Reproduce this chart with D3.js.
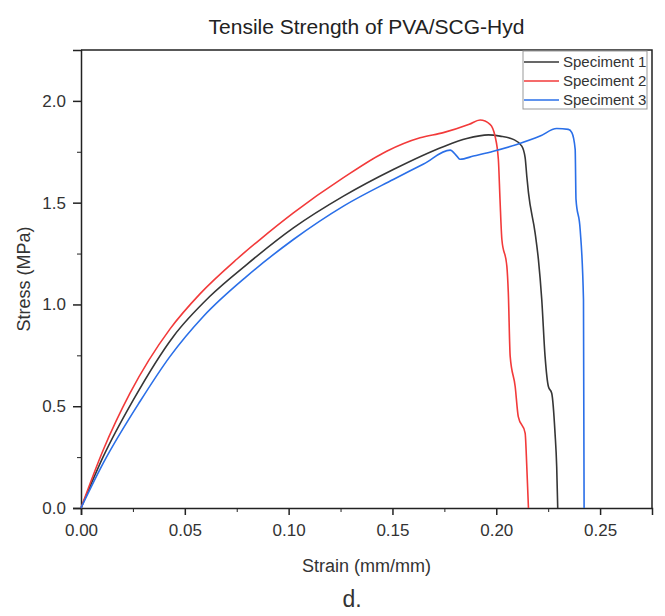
<!DOCTYPE html>
<html>
<head>
<meta charset="utf-8">
<script src="https://cdn.jsdelivr.net/npm/d3@7"></script>
<style>
  body { margin: 0; background: #fff; }
  svg { display: block; font-family: "Liberation Sans", Arial, sans-serif; }
  .axis path, .axis line { stroke: #222; }
  .axis text { fill: #333; font-size: 17px; }
</style>
</head>
<body>
<div id="chart"></div>
<script>
// Stress-strain curves (strain mm/mm, stress MPa).
const strain1 = [0, 0.0107, 0.0252, 0.0445, 0.0621, 0.0798, 0.1023, 0.1264, 0.1504, 0.1745, 0.1858, 0.1962, 0.2018, 0.2082, 0.2123, 0.2139, 0.2147, 0.2155, 0.2187, 0.2203, 0.2219, 0.2235, 0.2251, 0.2267, 0.2283, 0.2291, 0.2296];
const stress1 = [0, 0.252, 0.531, 0.843, 1.040, 1.196, 1.376, 1.532, 1.663, 1.775, 1.815, 1.833, 1.827, 1.811, 1.778, 1.721, 1.630, 1.549, 1.352, 1.220, 1.024, 0.745, 0.597, 0.564, 0.368, 0.203, 0];

const strain2 = [0, 0.0107, 0.0236, 0.0429, 0.0573, 0.0750, 0.0862, 0.1023, 0.1264, 0.1472, 0.1633, 0.1745, 0.1870, 0.1922, 0.1970, 0.1994, 0.2010, 0.2018, 0.2027, 0.2051, 0.2058, 0.2067, 0.2091, 0.2106, 0.2139, 0.2147, 0.2155];
const stress2 = [0, 0.285, 0.564, 0.880, 1.052, 1.222, 1.319, 1.450, 1.623, 1.753, 1.819, 1.844, 1.885, 1.906, 1.885, 1.827, 1.713, 1.516, 1.319, 1.187, 1.057, 0.745, 0.597, 0.449, 0.368, 0.203, 0];

const strain3 = [0, 0.0107, 0.0284, 0.0429, 0.0589, 0.0798, 0.1023, 0.1264, 0.1504, 0.1650, 0.1778, 0.1810, 0.1826, 0.1890, 0.1986, 0.2099, 0.2211, 0.2291, 0.2347, 0.2364, 0.2380, 0.2384, 0.2404, 0.2420, 0.2423];
const stress3 = [0, 0.220, 0.523, 0.745, 0.941, 1.138, 1.319, 1.483, 1.614, 1.690, 1.758, 1.729, 1.713, 1.729, 1.753, 1.786, 1.827, 1.864, 1.860, 1.844, 1.762, 1.516, 1.368, 1.024, 0];

const seriesNames = ["Speciment 1", "Speciment 2", "Speciment 3"];
const seriesColors = ["#363636", "#f23a3a", "#2a6fe8"];

const xTicks = [0, 0.05, 0.10, 0.15, 0.20, 0.25];
const xMinor = [0.025, 0.075, 0.125, 0.175, 0.225, 0.275];
const yTicks = [0, 0.5, 1.0, 1.5, 2.0];
const yMinor = [0.25, 0.75, 1.25, 1.75, 2.25];

const width = 665, height = 616;
const m = { top: 50, right: 13, bottom: 108, left: 81 };
const iW = width - m.left - m.right, iH = height - m.top - m.bottom;

const x = d3.scaleLinear([0, 0.275], [0, iW]);
const y = d3.scaleLinear([0, 2.25], [iH, 0]);

const svg = d3.select("#chart").append("svg")
  .attr("width", width).attr("height", height);
const g = svg.append("g").attr("transform", `translate(${m.left},${m.top})`);

svg.append("text").attr("x", m.left + iW / 2).attr("y", 34)
  .attr("text-anchor", "middle").attr("fill", "#222").style("font-size", "21px")
  .text("Tensile Strength of PVA/SCG-Hyd");

// Minor ticks first, majors on top.
g.append("g").attr("class", "axis").attr("transform", `translate(0,${iH})`)
  .call(d3.axisBottom(x).tickValues(xMinor).tickSize(4).tickFormat(""))
  .call((a) => a.select(".domain").remove());
g.append("g").attr("class", "axis").call(d3.axisLeft(y).tickValues(yMinor).tickSize(4).tickFormat(""))
  .call((a) => a.select(".domain").remove());

g.append("g").attr("class", "axis").attr("transform", `translate(0,${iH})`)
  .call(d3.axisBottom(x).tickValues(xTicks).tickSize(7).tickPadding(9).tickFormat(d3.format(".2f")))
  .call((a) => a.selectAll("line, path").attr("stroke-width", 1.5));
g.append("g").attr("class", "axis")
  .call(d3.axisLeft(y).tickValues(yTicks).tickSize(8).tickPadding(7).tickFormat(d3.format(".1f")))
  .call((a) => a.selectAll("line, path").attr("stroke-width", 1.5));

// Box frame (top and right edges).
g.append("path").attr("fill", "none").attr("stroke", "#222").attr("stroke-width", 1.5)
  .attr("d", `M0,0H${iW}V${iH}`);

const sets = [[strain1, stress1], [strain2, stress2], [strain3, stress3]];
const line = d3.line().x((p) => x(p[0])).y((p) => y(p[1])).curve(d3.curveMonotoneX);
sets.forEach(([xs, ys], i) => {
  const pts = xs.map((v, j) => [v, ys[j]]);
  g.append("path").datum(pts).attr("fill", "none")
    .attr("stroke", seriesColors[i]).attr("stroke-width", 1.6).attr("d", line);
});

g.append("text").attr("x", iW / 2).attr("y", iH + 64).attr("text-anchor", "middle")
  .attr("fill", "#333").style("font-size", "18px").text("Strain (mm/mm)");
g.append("text").attr("text-anchor", "middle").attr("fill", "#333").style("font-size", "18px")
  .attr("transform", `translate(${30 - m.left},${iH / 2}) rotate(-90)`).text("Stress (MPa)");

svg.append("text").attr("x", 352).attr("y", 607).attr("text-anchor", "middle")
  .attr("fill", "#333").style("font-size", "23px").text("d.");

// Legend box in the upper right corner.
const lg = g.append("g").attr("transform", `translate(${iW - 129},1)`);
lg.append("rect").attr("width", 124).attr("height", 58)
  .attr("fill", "#fff").attr("stroke", "#999").attr("stroke-width", 1);
seriesNames.forEach((name, i) => {
  const cy = 11 + i * 19;
  lg.append("line").attr("x1", 1).attr("x2", 36).attr("y1", cy).attr("y2", cy)
    .attr("stroke", seriesColors[i]).attr("stroke-width", 1.6);
  lg.append("text").attr("x", 40).attr("y", cy + 5).attr("fill", "#333")
    .style("font-size", "15px").text(name);
});
</script>
</body>
</html>
